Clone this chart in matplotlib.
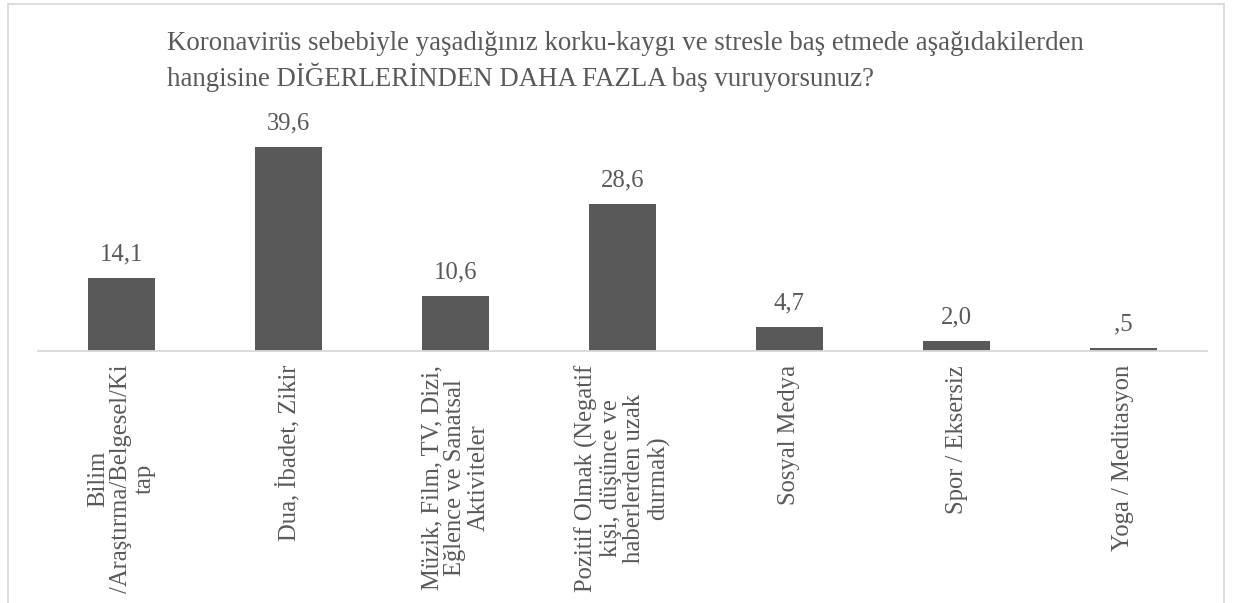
import matplotlib.pyplot as plt
from matplotlib.patches import Rectangle

categories = ["Bilim\n/Araştırma/Belgesel/Ki\ntap",
              "Dua, İbadet, Zikir",
              "Müzik, Film, TV, Dizi,\nEğlence ve Sanatsal\nAktiviteler",
              "Pozitif Olmak (Negatif\nkişi, düşünce ve\nhaberlerden uzak\ndurmak)",
              "Sosyal Medya",
              "Spor / Eksersiz",
              "Yoga / Meditasyon"]
values = [14.1, 39.6, 10.6, 28.6, 4.7, 2.0, 0.5]
value_labels = ["14,1", "39,6", "10,6", "28,6", "4,7", "2,0", ",5"]

title = ("Koronavirüs sebebiyle yaşadığınız korku-kaygı ve stresle baş etmede aşağıdakilerden\n"
         "hangisine DİĞERLERİNDEN DAHA FAZLA baş vuruyorsunuz?")

plt.rcParams['font.family'] = ['Liberation Serif', 'DejaVu Serif']
grey = '#595959'
W, H = 1233, 603

fig = plt.figure(figsize=(W / 100, H / 100), dpi=100)
fig.patches.append(Rectangle((8 / W, -0.1), (1224 - 8) / W, 1.1 - 4 / H,
                             transform=fig.transFigure, fill=False,
                             edgecolor='#d9d9d9', lw=1.3))

ax = fig.add_axes([38 / W, 1 - 351 / H, (1207 - 38) / W, (351 - 119) / H])
x = range(len(values))
ax.bar(x, values, width=0.4, color=grey)
ax.set_xlim(-0.5, len(values) - 0.5)
ax.set_ylim(0, 45)

for i, (v, lab) in enumerate(zip(values, value_labels)):
    ax.annotate(lab, (i, v), xytext=(0, 9), textcoords='offset points',
                ha='center', va='bottom', fontsize=17.8, color=grey)

ax.set_xticks(list(x))
ax.set_xticklabels(categories, rotation=90, ha='center', va='top',
                   multialignment='center', fontsize=17.7, color=grey,
                   linespacing=1.09)
ax.tick_params(axis='x', length=0, pad=10)
ax.set_yticks([])
for s in ['top', 'right', 'left']:
    ax.spines[s].set_visible(False)
ax.spines['bottom'].set_color('#d9d9d9')
ax.spines['bottom'].set_linewidth(1.3)

fig.text(167 / W, 1 - 31 / H, title, ha='left', va='top', fontsize=19.4,
         color=grey, linespacing=1.26)

fig.savefig('out.png', dpi=100)
